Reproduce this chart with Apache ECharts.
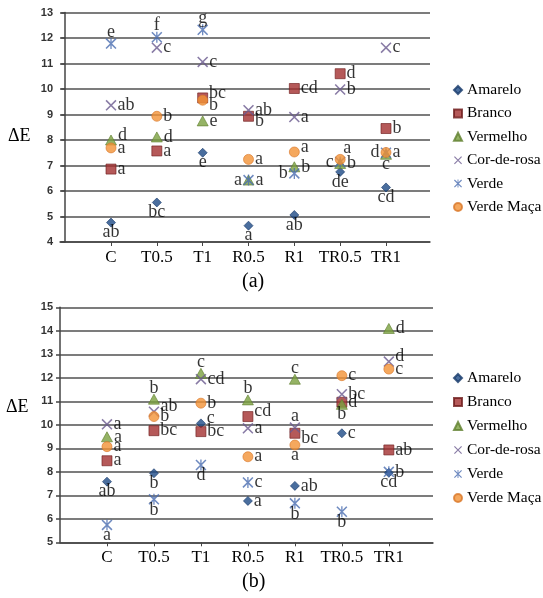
<!DOCTYPE html>
<html><head><meta charset="utf-8">
<script src="https://cdn.jsdelivr.net/npm/echarts@6/dist/echarts.min.js"></script>
<style>html,body{margin:0;padding:0;background:#fff}#c{width:543px;height:598px}</style>
</head><body><div id="c"></div>
<script>
const categories = ['C', 'T0.5', 'T1', 'R0.5', 'R1', 'TR0.5', 'TR1'];
const seriesNames = ['Amarelo', 'Branco', 'Vermelho', 'Cor-de-rosa', 'Verde', 'Verde Maça'];
const yRangeA = [4, 13];
const yRangeB = [5, 15];

// Chart (a) values and letters
const amareloA = [4.76, 5.55, 7.5, 4.64, 5.06, 6.75, 6.14];
const amareloA_txt = ['ab', 'bc', 'e', 'a', 'ab', 'de', 'cd'];
const brancoA = [6.86, 7.57, 9.65, 8.93, 10.02, 10.6, 8.45];
const brancoA_txt = ['a', 'a', 'bc', 'b', 'cd', 'd', 'b'];
const vermelhoA = [8.0, 8.12, 8.75, 6.43, 6.95, 7.08, 7.44];
const vermelhoA_txt = ['d', 'd', 'e', 'a', 'b', 'b', 'c'];
const corA = [9.36, 11.62, 11.06, 9.17, 8.9, 9.98, 11.62];
const corA_txt = ['ab', 'c', 'c', 'ab', 'a', 'b', 'c'];
const verdeA = [11.78, 12.03, 12.32, 6.43, 6.69, 7.14, 7.5];
const verdeA_txt = ['e', 'f', 'g', 'a', 'b', 'c', 'd'];
const macaA = [7.69, 8.93, 9.56, 7.24, 7.53, 7.24, 7.51];
const macaA_txt = ['a', 'b', 'b', 'a', 'a', 'a', 'a'];

// Chart (b) values and letters
const amareloB = [7.58, 7.94, 10.06, 6.76, 7.4, 9.64, 7.96];
const amareloB_txt = ['ab', 'b', 'c', 'a', 'ab', 'c', 'cd'];
const brancoB = [8.47, 9.75, 9.71, 10.35, 9.64, 10.96, 8.93];
const brancoB_txt = ['a', 'bc', 'bc', 'cd', 'bc', 'd', 'ab'];
const vermelhoB = [9.49, 11.09, 12.19, 11.06, 11.94, 10.87, 14.1];
const vermelhoB_txt = ['a', 'b', 'c', 'b', 'c', 'b', 'd'];
const corB = [10.02, 10.56, 11.94, 9.85, 9.88, 11.3, 12.69];
const corB_txt = ['a', 'ab', 'cd', 'a', 'a', 'bc', 'd'];
const verdeB = [5.74, 6.83, 8.29, 7.55, 6.66, 6.3, 8.0];
const verdeB_txt = ['a', 'b', 'd', 'c', 'b', 'b', 'b'];
const macaB = [9.07, 10.35, 10.92, 8.64, 9.14, 12.09, 12.37];
const macaB_txt = ['a', 'b', 'b', 'a', 'a', 'c', 'c'];

// label placement keys (style, not data)
const placeA = [
  ['bottom','bottom','bottom','bottom','bottom','bottom','bottom'],
  ['right','right','rightUp','rightDown','right','right','right'],
  ['rightUp','right','right','right','right','right','bottom'],
  ['right','right','right','right','right','right','right'],
  ['top','top','top','left','left','left','left'],
  ['right','right','rightDown','right','rightUp','topRight','right']
];
const placeB = [
  ['bottom','bottom','rightUp','right','right','right','bottom'],
  ['right','right','right','rightUp','rightDown','right','right'],
  ['right','top','top','top','top','bottom','right'],
  ['right','rightUp','right','right','top','right','rightUp'],
  ['bottom','bottom','bottom','right','bottom','bottom','right'],
  ['right','right','right','right','bottom','right','right']
];

const placeCfg = {
  right: {position: 'right', distance: 1},
  left: {position: 'left', distance: 1},
  top: {position: 'top', distance: -3},
  bottom: {position: 'bottom', distance: -4},
  rightUp: {position: 'right', distance: 1, offset: [0, -5]},
  rightDown: {position: 'right', distance: 1, offset: [0, 5]},
  topRight: {position: 'top', distance: -3, offset: [7, 0]}
};

const X_PATH = 'path://M0,1L1,0L10,9L9,10Z M9,0L10,1L1,10L0,9Z';
const AST_PATH = 'path://M0,1L1,0L10,9L9,10Z M9,0L10,1L1,10L0,9Z M4.4,0L5.6,0L5.6,10L4.4,10Z';
const styles = [
  {symbol: 'diamond', size: 9, color: '#1d4a86', border: '#17396a'},
  {symbol: 'rect', size: 10, color: '#a3302f', border: '#6e1c1c'},
  {symbol: 'triangle', size: [11, 10], color: '#7aa03f', border: '#5f7f2e'},
  {symbol: X_PATH, size: 11, color: '#6a5a8e', border: null},
  {symbol: AST_PATH, size: 11, color: '#4a6db0', border: null},
  {symbol: 'circle', size: 10, color: '#f39236', border: '#d9782a'}
];

const valsA = [amareloA, brancoA, vermelhoA, corA, verdeA, macaA];
const txtA = [amareloA_txt, brancoA_txt, vermelhoA_txt, corA_txt, verdeA_txt, macaA_txt];
const valsB = [amareloB, brancoB, vermelhoB, corB, verdeB, macaB];
const txtB = [amareloB_txt, brancoB_txt, vermelhoB_txt, corB_txt, verdeB_txt, macaB_txt];

function buildSeries(vals, txts, places, gi) {
  return vals.map((arr, s) => ({
    name: seriesNames[s],
    type: 'scatter',
    xAxisIndex: gi, yAxisIndex: gi,
    symbol: styles[s].symbol,
    symbolSize: styles[s].size,
    itemStyle: styles[s].border ? {color: styles[s].color, borderColor: styles[s].border, borderWidth: 0.8} : {color: styles[s].color},
    label: {show: true, fontFamily: 'Liberation Serif', fontSize: 18, color: '#000',
      formatter: p => txts[s][p.dataIndex]},
    emphasis: {disabled: true},
    data: arr.map((v, i) => ({
      value: [i + 1, v],
      label: Object.assign({}, placeCfg[places[s][i]])
    }))
  }));
}

const serif = 'Liberation Serif';
function xAxisCfg(gi, min, max) {
  return {
    type: 'value', gridIndex: gi, min: min, max: max,
    axisLine: {show: true, lineStyle: {color: '#444', width: 1.5}},
    axisTick: {show: true, customValues: [1,2,3,4,5,6,7], length: 4, lineStyle: {color: '#444'}},
    axisLabel: {customValues: [1,2,3,4,5,6,7], fontFamily: serif, fontSize: 17, color: '#000', margin: 7,
      formatter: v => categories[Math.round(v) - 1] || ''},
    splitLine: {show: false}
  };
}
function yAxisCfg(gi, range) {
  return {
    type: 'value', gridIndex: gi, min: range[0], max: range[1], interval: 1,
    axisLine: {show: true, lineStyle: {color: '#444', width: 1.5}},
    axisTick: {show: true, length: 4, lineStyle: {color: '#444', width: 1.5}},
    axisLabel: {fontFamily: 'Liberation Sans', fontWeight: 'bold', fontSize: 11, color: '#333', margin: 7},
    splitLine: {show: true, lineStyle: {color: '#505050', width: 1.5}}
  };
}
function legendCfg(top, gap) {
  return {
    orient: 'vertical', left: 448, top: top, itemWidth: 8, itemHeight: 8, itemGap: gap,
    selectedMode: false,
    textStyle: {fontFamily: serif, fontSize: 15.5, color: '#000', lineHeight: 15},
    data: seriesNames
  };
}

const chart = echarts.init(document.getElementById('c'), null, {renderer: 'canvas'});
chart.setOption({
  animation: false,
  backgroundColor: '#fff',
  grid: [
    {left: 60, top: 12.5, width: 370, height: 229.5},
    {left: 60, top: 307.3, width: 373, height: 235}
  ],
  xAxis: [xAxisCfg(0, -0.113, 7.96), xAxisCfg(1, 0, 7.94)],
  yAxis: [yAxisCfg(0, yRangeA), yAxisCfg(1, yRangeB)],
  legend: [legendCfg(77, 7.4), legendCfg(365, 8)],
  graphic: [
    {type: 'text', left: 8, top: 127, style: {text: 'ΔE', font: '18px "Liberation Serif"', fill: '#000'}},
    {type: 'text', left: 6, top: 398, style: {text: 'ΔE', font: '18px "Liberation Serif"', fill: '#000'}},
    {type: 'text', left: 242, top: 272, style: {text: '(a)', font: '20px "Liberation Serif"', fill: '#000'}},
    {type: 'text', left: 242, top: 572, style: {text: '(b)', font: '20px "Liberation Serif"', fill: '#000'}}
  ],
  series: buildSeries(valsA, txtA, placeA, 0).concat(buildSeries(valsB, txtB, placeB, 1))
});
</script>
</body></html>
